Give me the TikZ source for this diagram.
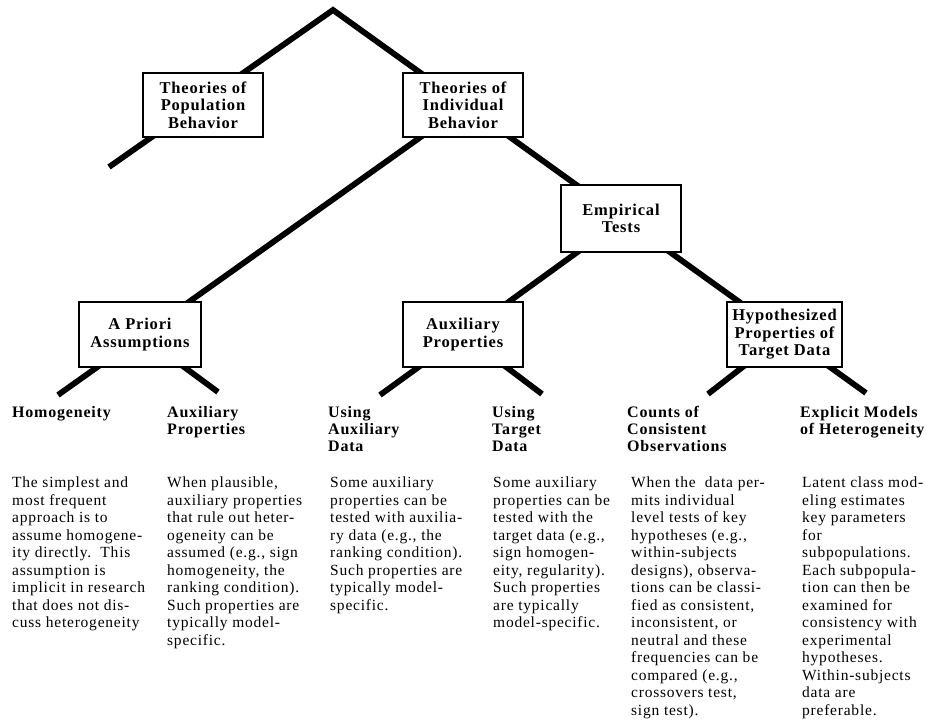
\documentclass[tikz,border=0pt]{standalone}
\usepackage{fontspec}
\setmainfont[LetterSpace=5]{Liberation Serif}
\usetikzlibrary{backgrounds}
\begin{document}
\begin{tikzpicture}[x=1pt,y=-1pt,
  conn/.style={line width=5.8pt, line join=miter, miter limit=20},
  box/.style={draw, line width=1.5pt, fill=white, inner sep=0pt, align=center,
    font=\fontsize{16.5}{17.5}\selectfont\bfseries},
  head/.style={anchor=north west, inner sep=0pt, align=left,
    font=\fontsize{16}{17}\selectfont\bfseries},
  body/.style={anchor=north west, inner sep=0pt, align=left,
    font=\fontsize{15.5}{17.5}\selectfont}]
\useasboundingbox (0,0) rectangle (927,728);

% boxes
\node[box, minimum width=120pt, minimum height=64pt] (pop) at (203,105) {Theories of\\Population\\Behavior};
\node[box, minimum width=120pt, minimum height=64pt] (ind) at (463,105) {Theories of\\Individual\\Behavior};
\node[box, minimum width=120pt, minimum height=67pt] (emp) at (621,218.5) {Empirical\\Tests};
\node[box, minimum width=122pt, minimum height=65pt] (apr) at (140,334.5) {A Priori\\Assumptions};
\node[box, minimum width=120pt, minimum height=65pt] (aux) at (463,334.5) {Auxiliary\\Properties};
\node[box, minimum width=115pt, minimum height=65pt] (hyp) at (784.5,334.5) {Hypothesized\\Properties of\\Target Data};

% connector end points
\coordinate (apex) at (333,10);
\coordinate (popend) at (109,167);
\coordinate (hypend) at (866,393);
\coordinate (indin) at (432,129);
\coordinate (aprend) at (58,395);
\coordinate (aprR) at (218,392);
\coordinate (empin) at (590,243);
\coordinate (auxL) at (380,395);
\coordinate (auxR) at (542,394);
\coordinate (hypL) at (708,394);

\begin{pgfonlayer}{background}
\draw[conn] (popend) -- (apex) -- (hypend);
\draw[conn] (indin) -- (aprend);
\draw[conn] (apr.center) -- (aprR);
\draw[conn] (empin) -- (auxL);
\draw[conn] (aux.center) -- (auxR);
\draw[conn] (hyp.center) -- (hypL);
\end{pgfonlayer}

% headings
\node[head] (h1) at (12,406) {Homogeneity};
\node[head] (h2) at (167,406) {Auxiliary\\Properties};
\node[head] (h3) at (328,406) {Using\\Auxiliary\\Data};
\node[head] (h4) at (492,406) {Using\\Target\\Data};
\node[head] (h5) at (627,406) {Counts of\\Consistent\\Observations};
\node[head] (h6) at (800,406) {Explicit Models\\of Heterogeneity};

% texts
\node[body] (t1) at (12,477) {The simplest and\\most frequent\\approach is to\\assume homogene-\\ity directly.\ \ This\\assumption is\\implicit in research\\that does not dis-\\cuss heterogeneity};
\node[body] (t2) at (167,477) {When plausible,\\auxiliary properties\\that rule out heter-\\ogeneity can be\\assumed (e.g., sign\\homogeneity, the\\ranking condition).\\Such properties are\\typically model-\\specific.};
\node[body] (t3) at (330,477) {Some auxiliary\\properties can be\\tested with auxilia-\\ry data (e.g., the\\ranking condition).\\Such properties are\\typically model-\\specific.};
\node[body] (t4) at (493,477) {Some auxiliary\\properties can be\\tested with the\\target data (e.g.,\\sign homogen-\\eity, regularity).\\Such properties\\are typically\\model-specific.};
\node[body] (t5) at (631,477) {When the\ \ data per-\\mits individual\\level tests of key\\hypotheses (e.g.,\\within-subjects\\designs), observa-\\tions can be classi-\\fied as consistent,\\inconsistent, or\\neutral and these\\frequencies can be\\compared (e.g.,\\crossovers test,\\sign test).};
\node[body] (t6) at (802,477) {Latent class mod-\\eling estimates\\key parameters\\for\\subpopulations.\\Each subpopula-\\tion can then be\\examined for\\consistency with\\experimental\\hypotheses.\\Within-subjects\\data are\\preferable.};
\end{tikzpicture}
\end{document}
